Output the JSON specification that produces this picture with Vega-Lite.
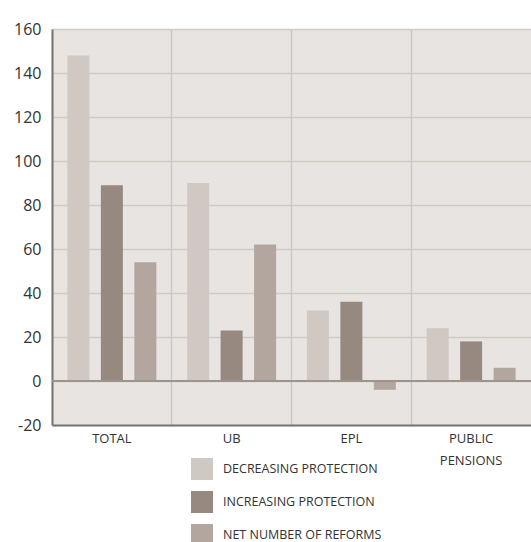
{
  "$schema": "https://vega.github.io/schema/vega-lite/v6.json",
  "width": 479,
  "height": 396,
  "autosize": {"type": "none"},
  "padding": {"left": 52, "top": 29, "right": 0, "bottom": 117},
  "background": "white",
  "config": {
    "view": {"fill": "#e8e4e1", "stroke": null},
    "font": "Open Sans"
  },
  "data": {
    "values": [
      {"category": "Total", "series": "Decreasing protection", "value": 148},
      {"category": "Total", "series": "Increasing protection", "value": 89},
      {"category": "Total", "series": "Net number of reforms", "value": 54},
      {"category": "UB", "series": "Decreasing protection", "value": 90},
      {"category": "UB", "series": "Increasing protection", "value": 23},
      {"category": "UB", "series": "Net number of reforms", "value": 62},
      {"category": "EPL", "series": "Decreasing protection", "value": 32},
      {"category": "EPL", "series": "Increasing protection", "value": 36},
      {"category": "EPL", "series": "Net number of reforms", "value": -4},
      {"category": "Public pensions", "series": "Decreasing protection", "value": 24},
      {"category": "Public pensions", "series": "Increasing protection", "value": 18},
      {"category": "Public pensions", "series": "Net number of reforms", "value": 6}
    ]
  },
  "layer": [
    {
      "mark": {"type": "bar"},
      "encoding": {
        "x": {
          "field": "category",
          "type": "nominal",
          "sort": null,
          "scale": {"paddingInner": 0, "paddingOuter": 0},
          "axis": {
            "title": null,
            "labelAngle": 0,
            "grid": true,
            "bandPosition": 0,
            "gridColor": "#cdc6c1",
            "gridWidth": 1.5,
            "ticks": false,
            "domain": true,
            "domainColor": "#7a7470",
            "domainWidth": 2,
            "labelFontSize": 13,
            "labelColor": "#333333",
            "labelPadding": 7,
            "labelLineHeight": 22,
            "labelExpr": "indexof(datum.label, ' ') > 0 ? split(upper(datum.label), ' ') : upper(datum.label)"
          }
        },
        "xOffset": {
          "field": "series",
          "type": "nominal",
          "sort": ["Decreasing protection", "Increasing protection", "Net number of reforms"],
          "scale": {"paddingInner": 0.343, "paddingOuter": 0.46}
        },
        "y": {
          "field": "value",
          "type": "quantitative",
          "scale": {"domain": [-20, 160], "nice": false},
          "axis": {
            "title": null,
            "values": [-20, 0, 20, 40, 60, 80, 100, 120, 140, 160],
            "labelExpr": "toString(datum.value)",
            "grid": true,
            "gridColor": "#d0c9c4",
            "gridWidth": 1.5,
            "ticks": false,
            "domain": true,
            "domainColor": "#7a7470",
            "domainWidth": 2,
            "labelFontSize": 16,
            "labelColor": "#333333",
            "labelPadding": 11
          }
        },
        "color": {
          "field": "series",
          "type": "nominal",
          "scale": {
            "domain": ["Decreasing protection", "Increasing protection", "Net number of reforms"],
            "range": ["#cfc8c3", "#978980", "#b3a69e"]
          },
          "legend": {
            "title": null,
            "orient": "none",
            "legendX": 139,
            "legendY": 429,
            "direction": "vertical",
            "padding": 0,
            "symbolType": "square",
            "symbolSize": 484,
            "symbolStrokeWidth": 0,
            "symbolOpacity": 1,
            "rowPadding": 11,
            "labelOffset": 10,
            "labelFontSize": 12.5,
            "labelColor": "#333333",
            "labelExpr": "upper(datum.label)"
          }
        }
      }
    },
    {
      "mark": {"type": "rule", "color": "#9e948e", "strokeWidth": 1.5},
      "encoding": {"y": {"datum": 0}}
    }
  ]
}
